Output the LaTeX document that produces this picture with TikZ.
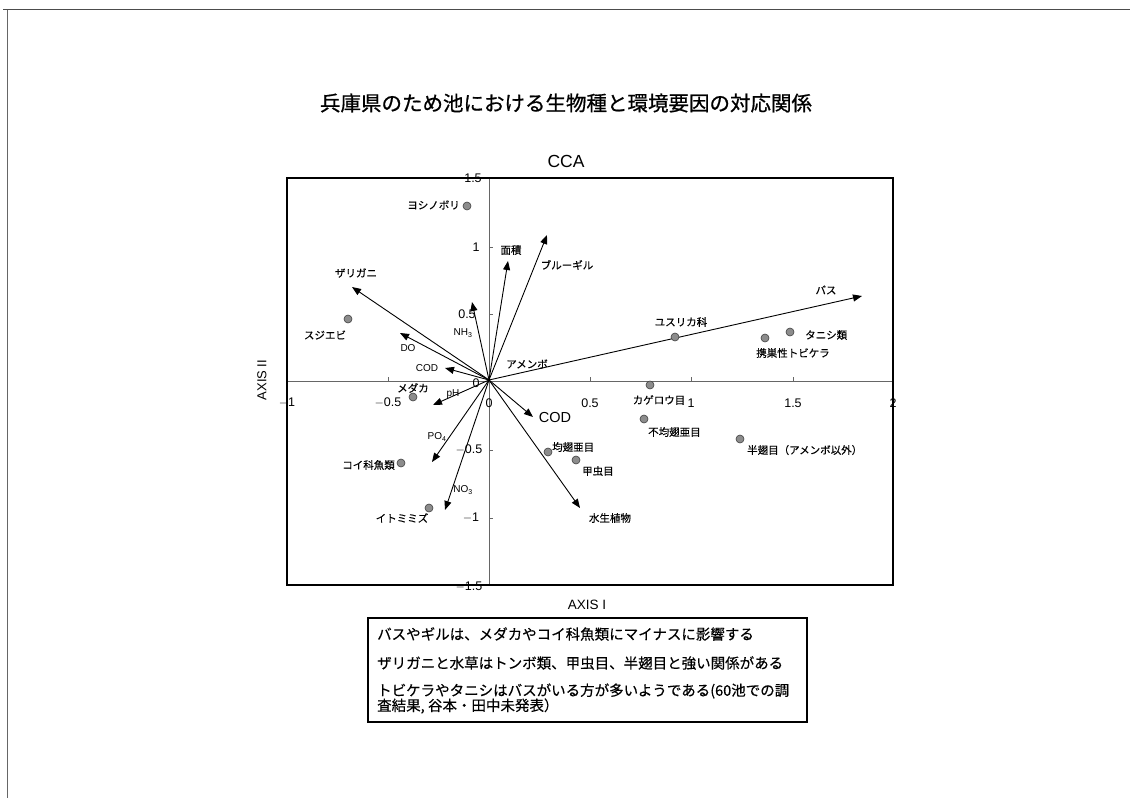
\documentclass[tikz,border=0pt]{standalone}
\usepackage{fontspec}
\setmainfont{Liberation Sans}
\newfontfamily\jp[FakeBold=0.3]{Noto Sans CJK JP}
\newfontfamily\jpt[FakeBold=0.8]{Noto Sans CJK JP}
\usetikzlibrary{arrows.meta}
\begin{document}
\begin{tikzpicture}[x=1pt,y=-1pt,
  vec/.style={draw=black, line width=0.9pt, -{Triangle[length=9pt,width=7pt]}},
  spt/.style={circle, draw=black!75, fill=black!45, line width=0.6pt, minimum size=8pt, inner sep=0pt},
  lab/.style={font=\jp\fontsize{10.5}{12}\selectfont, inner sep=0pt},
  elab/.style={font=\fontsize{10}{12}\selectfont, inner sep=0pt},
  ticklab/.style={font=\fontsize{12.5}{14}\selectfont, inner sep=0pt},
  axisline/.style={draw=black!60, line width=0.8pt},
  frameline/.style={draw=black, line width=1.6pt},
  boxtext/.style={font=\jp\fontsize{14.5}{16}\selectfont, inner sep=0pt, anchor=west}]
\useasboundingbox (0,0) rectangle (1130,798);
% page frame
\draw[draw=black!70, line width=1.8pt] (3,9.5) -- (1130,9.5);
\draw[draw=black!60, line width=1.4pt] (7.5,9.5) -- (7.5,798);
% titles
\node[font=\jpt\fontsize{20.5}{24}\selectfont, inner sep=0pt] (title) at (566,103) {兵庫県のため池における生物種と環境要因の対応関係};
\node[font=\fontsize{17.5}{20}\selectfont, inner sep=0pt] (cca) at (566,161) {CCA};
% plot frame and axes
\draw[axisline] (489,178) -- (489,585);
\draw[axisline] (287,381) -- (893,381);
\foreach \xx in {388,590,691,793} \draw[axisline] (\xx,381) -- (\xx,377);
\foreach \yy in {247,314,450,518} \draw[axisline] (489,\yy) -- (493,\yy);
\draw[frameline] (287,178) rectangle (893,585);
% tick labels
\node[ticklab] (tx1) at (287,403) {$-$1};
\node[ticklab] (tx2) at (388,403) {$-$0.5};
\node[ticklab] (tx3) at (489,403) {0};
\node[ticklab] (tx4) at (590,403) {0.5};
\node[ticklab] (tx5) at (691,403) {1};
\node[ticklab] (tx6) at (793,403) {1.5};
\node[ticklab] (tx7) at (893,403) {2};
\node[ticklab] (ty1) at (473,178) {1.5};
\node[ticklab] (ty2) at (476,247) {1};
\node[ticklab] (ty3) at (467,314) {0.5};
\node[ticklab] (ty4) at (476,383) {0};
\node[ticklab] (ty5) at (469,450) {$-$0.5};
\node[ticklab] (ty6) at (471,518) {$-$1};
\node[ticklab] (ty7) at (469,587) {$-$1.5};
\node[font=\fontsize{13.5}{16}\selectfont, inner sep=0pt] (ax1) at (587,605) {AXIS I};
\node[font=\fontsize{13}{16}\selectfont, inner sep=0pt, rotate=90] (ax2) at (262,380) {AXIS II};
% origin and arrow tips
\coordinate (O) at (489,380);
\coordinate (tBass) at (862,296);
\coordinate (tBlue) at (547,235);
\coordinate (tArea) at (508,261);
\coordinate (tZari) at (352,287);
\coordinate (tNH) at (472,302);
\coordinate (tDO) at (400,333);
\coordinate (tCODa) at (445,368);
\coordinate (tpH) at (433,405);
\coordinate (tPO) at (432,462);
\coordinate (tNO) at (445,510);
\coordinate (tCODb) at (533,417);
\coordinate (tPlant) at (580,508);
\foreach \t in {tBass,tBlue,tArea,tZari,tNH,tDO,tCODa,tpH,tPO,tNO,tCODb,tPlant}
  \draw[vec] (O) -- (\t);
% arrow labels
\node[lab] (lBass) at (826,290) {バス};
\node[lab] (lBlue) at (567,265) {ブルーギル};
\node[lab] (lArea) at (511,250) {面積};
\node[lab] (lZari) at (356,273) {ザリガニ};
\node[elab] (lNH) at (463,333) {NH\textsubscript{3}};
\node[elab] (lDO) at (408,348) {DO};
\node[elab] (lCODa) at (427,368) {COD};
\node[elab] (lpH) at (453,394) {pH};
\node[elab] (lPO) at (437,437) {PO\textsubscript{4}};
\node[elab] (lNO) at (463,490) {NO\textsubscript{3}};
\node[font=\fontsize{14.5}{16}\selectfont, inner sep=0pt] (lCODb) at (555,418) {COD};
\node[lab] (lPlant) at (610,518) {水生植物};
\node[lab] (lAmen) at (527,364) {アメンボ};
% species points
\node[spt] (pYoshi) at (467,206) {};
\node[lab, anchor=east] (lYoshi) at (460,205) {ヨシノボリ};
\node[spt] (pSuji) at (348,319) {};
\node[lab] (lSuji) at (325,335) {スジエビ};
\node[spt] (pMedaka) at (413,397) {};
\node[lab] (lMedaka) at (413,388) {メダカ};
\node[spt] (pKoi) at (401,463) {};
\node[lab, anchor=east] (lKoi) at (395,465) {コイ科魚類};
\node[spt] (pIto) at (429,508) {};
\node[lab] (lIto) at (402,518) {イトミミズ};
\node[spt] (pYusu) at (675,337) {};
\node[lab] (lYusu) at (681,322) {ユスリカ科};
\node[spt] (pTani) at (790,332) {};
\node[lab, anchor=west] (lTani) at (805,335) {タニシ類};
\node[spt] (pTobi) at (765,338) {};
\node[lab] (lTobi) at (793,353) {携巣性トビケラ};
\node[spt] (pKage) at (650,385) {};
\node[lab] (lKage) at (659,400) {カゲロウ目};
\node[spt] (pFukin) at (644,419) {};
\node[lab, anchor=west] (lFukin) at (648,432) {不均翅亜目};
\node[spt] (pKin) at (548,452) {};
\node[lab, anchor=west] (lKin) at (552,447) {均翅亜目};
\node[spt] (pKou) at (576,460) {};
\node[lab, anchor=west] (lKou) at (582,471) {甲虫目};
\node[spt] (pHan) at (740,439) {};
\node[lab, anchor=west] (lHan) at (747,450) {半翅目（アメンボ以外）};
% bottom box
\draw[draw=black, line width=1.3pt] (368,618) rectangle (807,722);
\node[boxtext] (b1) at (377,634) {バスやギルは、メダカやコイ科魚類にマイナスに影響する};
\node[boxtext] (b2) at (377,663) {ザリガニと水草はトンボ類、甲虫目、半翅目と強い関係がある};
\node[boxtext] (b3) at (377,691) {トビケラやタニシはバスがいる方が多いようである(60池での調};
\node[boxtext] (b4) at (377,706) {査結果, 谷本・田中未発表）};
\end{tikzpicture}
\end{document}
